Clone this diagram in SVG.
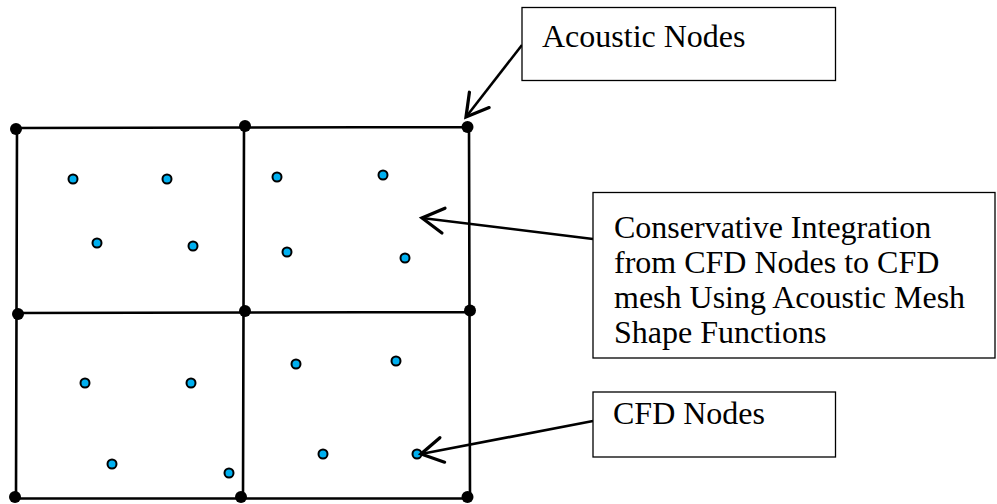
<svg xmlns="http://www.w3.org/2000/svg" width="997" height="504" viewBox="0 0 997 504">
<style>
.grid{stroke:#000;stroke-width:2.6;fill:none;stroke-linecap:square}
.an{fill:#000}
.cfd{fill:#00B0F0;stroke:#000;stroke-width:2}
.box{fill:#fff;stroke:#000;stroke-width:1.3}
.lbl{font-family:"Liberation Serif","Times New Roman",serif;font-size:32px;fill:#000}
.arr{stroke:#000;stroke-width:2.6;fill:none;marker-end:url(#open)}
</style>
<defs>
<marker id="open" markerUnits="userSpaceOnUse" markerWidth="30" markerHeight="30" viewBox="-20 -12 24 24" refX="0" refY="0" orient="auto" overflow="visible">
<path d="M-17.3,-10 L0,0 L-17.3,10" fill="none" stroke="#000" stroke-width="2.6" stroke-linecap="round" stroke-linejoin="miter"/>
</marker>
</defs>
<rect width="997" height="504" fill="#fff"/>
<g id="mesh">
<path class="grid" d="M17,128 L468,127 M17,313 L470,312 M16,498.5 L469,498.5 M17,128 L16,498.5 M244,127 L243,498 M469,127 L470,498"/>
</g>
<g id="acoustic-nodes">
<circle class="an" cx="16" cy="129" r="6"/>
<circle class="an" cx="245" cy="126" r="6"/>
<circle class="an" cx="467.5" cy="127" r="6"/>
<circle class="an" cx="18" cy="314" r="6"/>
<circle class="an" cx="245" cy="311" r="6"/>
<circle class="an" cx="470" cy="310.5" r="6"/>
<circle class="an" cx="15" cy="497" r="6"/>
<circle class="an" cx="241" cy="497" r="6"/>
<circle class="an" cx="467.5" cy="497" r="6"/>
</g>
<g id="cfd-nodes">
<circle class="cfd" cx="73" cy="179" r="4.5"/>
<circle class="cfd" cx="167" cy="179" r="4.5"/>
<circle class="cfd" cx="97" cy="243" r="4.5"/>
<circle class="cfd" cx="193" cy="246" r="4.5"/>
<circle class="cfd" cx="277" cy="177" r="4.5"/>
<circle class="cfd" cx="383" cy="175" r="4.5"/>
<circle class="cfd" cx="287" cy="252" r="4.5"/>
<circle class="cfd" cx="405" cy="258" r="4.5"/>
<circle class="cfd" cx="85" cy="383" r="4.5"/>
<circle class="cfd" cx="191" cy="383" r="4.5"/>
<circle class="cfd" cx="112" cy="464" r="4.5"/>
<circle class="cfd" cx="229" cy="473" r="4.5"/>
<circle class="cfd" cx="296" cy="364" r="4.5"/>
<circle class="cfd" cx="396" cy="361" r="4.5"/>
<circle class="cfd" cx="323" cy="454" r="4.5"/>
<circle class="cfd" cx="417" cy="454" r="4.5"/>
</g>
<g id="connectors">
<line class="arr" x1="522" y1="45" x2="466" y2="117"/>
<line class="arr" x1="593" y1="239" x2="422" y2="218"/>
<line class="arr" x1="593" y1="421" x2="421" y2="454"/>
</g>
<g id="label-acoustic">
<rect class="box" x="522" y="7.5" width="313.5" height="73"/>
<text class="lbl" x="542" y="47">Acoustic Nodes</text>
</g>
<g id="label-integration">
<rect class="box" x="593" y="192.5" width="402" height="165.5"/>
<text class="lbl" x="614"><tspan x="614" y="238">Conservative Integration</tspan><tspan x="614" y="273">from CFD Nodes to CFD</tspan><tspan x="614" y="308">mesh Using Acoustic Mesh</tspan><tspan x="614" y="343">Shape Functions</tspan></text>
</g>
<g id="label-cfd">
<rect class="box" x="593" y="392" width="242.5" height="65"/>
<text class="lbl" x="613" y="424">CFD Nodes</text>
</g>
</svg>
